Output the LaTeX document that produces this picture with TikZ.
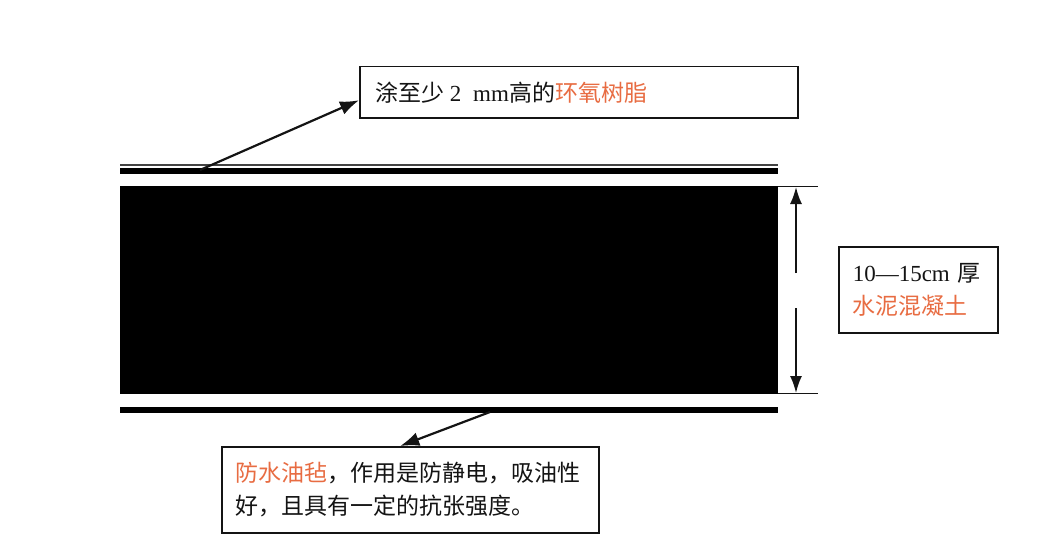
\documentclass[tikz,border=0pt]{standalone}
\usepackage{fontspec}
\setmainfont{Liberation Serif}
\newfontfamily\cjk{Noto Sans CJK SC}
\usetikzlibrary{arrows.meta,calc}
\definecolor{accent}{RGB}{232,108,66}
\definecolor{ink}{RGB}{20,20,20}
\tikzset{
  note/.style={draw=ink, line width=1.5pt, fill=white, anchor=north west, align=left,
    font=\fontsize{23}{33}\selectfont, text=ink, inner ysep=0pt},
  pointer/.style={draw=ink, line width=2.2pt, -{Latex[length=19pt,width=14pt]}},
  dimarrow/.style={draw=ink, line width=1.8pt, -{Latex[length=17pt,width=12pt]}},
  dimline/.style={draw=ink, line width=0.9pt},
}
\begin{document}
\begin{tikzpicture}[x=1pt,y=-1pt]
\useasboundingbox (0,0) rectangle (1050,551);
% layers
\draw[line width=1.2pt, draw=ink!80] (120,165) -- (778,165);
\fill[black] (120,168) rectangle (778,174);
\fill[black] (120,186) rectangle (778,394);
\fill[black] (120,407) rectangle (778,413);
% dimension
\coordinate (t0) at (778,186.5);
\coordinate (t1) at (818,186.5);
\coordinate (d0) at (778,393.5);
\coordinate (d1) at (818,393.5);
\draw[dimline] (t0) -- (t1);
\draw[dimline] (d0) -- (d1);
\coordinate (u0) at (796,273);
\coordinate (u1) at (796,187);
\coordinate (w0) at (796,308);
\coordinate (w1) at (796,393);
\draw[dimarrow] (u0) -- (u1);
\draw[dimarrow] (w0) -- (w1);
% notes
\node[note, minimum width=438pt, minimum height=51pt, text width=406pt, inner xsep=16pt] (b1) at (359,66)
  {{\cjk 涂至少}\hspace{5pt}2\hspace{12pt}mm{\cjk 高的\textcolor{accent}{环氧树脂}}};
\node[note, minimum width=159pt, minimum height=86pt, text width=131pt, inner xsep=14pt] (b2) at (838,246)
  {10—15cm {\cjk 厚}\\{\cjk\textcolor{accent}{水泥混凝土}}};
\node[note, minimum width=377pt, minimum height=86pt, text width=349pt, inner xsep=14pt] (b3) at (221,446)
  {{\cjk\textcolor{accent}{防水油毡}，作用是防静电，吸油性}\\{\cjk 好，且具有一定的抗张强度。}};
% pointers
\coordinate (e1) at (200,170);
\coordinate (e3) at (490,412);
\draw[pointer] (e1) -- ([yshift=-8pt]b1.west);
\draw[pointer] (e3) -- ([xshift=-10pt]b3.north);
\end{tikzpicture}
\end{document}
